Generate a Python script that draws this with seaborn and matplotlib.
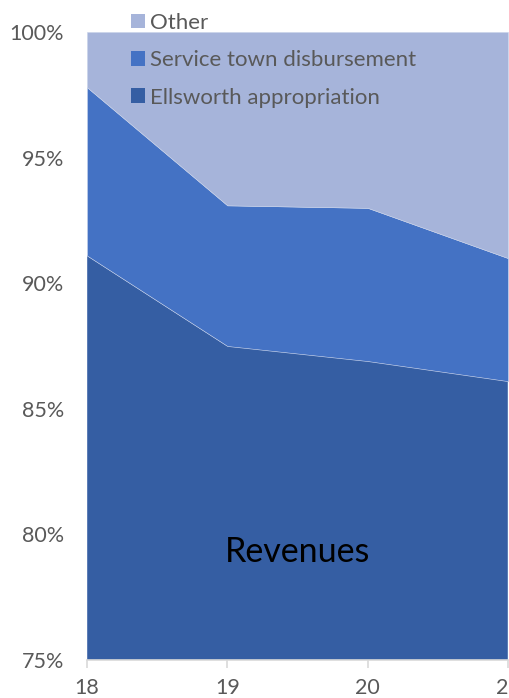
import matplotlib
matplotlib.use("Agg")
import matplotlib.pyplot as plt
import seaborn as sns
import numpy as np
import pandas as pd
from matplotlib.ticker import FuncFormatter
from matplotlib.patches import Patch

years = [18, 19, 20, 21]
year_labels = ["18", "19", "20", "21"]
ellsworth = [91.1, 87.5, 86.9, 86.1]
service = [6.7, 5.6, 6.1, 4.9]
other = [2.2, 6.9, 7.0, 9.0]
series_names = ["Ellsworth appropriation", "Service town disbursement", "Other"]
colors = ["#355EA3", "#4472C4", "#A6B4DA"]

df = pd.DataFrame({"year": years, series_names[0]: ellsworth,
                   series_names[1]: service, series_names[2]: other})

sns.set_theme(style="white")
plt.rcParams['font.family'] = ['Lato', 'DejaVu Sans']

fig = plt.figure(figsize=(5.10, 6.98), dpi=100)
ax = fig.add_axes([87/510, 1-660/698, (508-87)/510, (660-32)/698])

ax.stackplot(df["year"], df[series_names[0]], df[series_names[1]], df[series_names[2]],
             colors=colors, edgecolor="#c9d3ea", linewidth=0.4)

ax.set_xlim(18, 21)
ax.set_ylim(75, 100)
ax.set_xticks(years)
ax.set_xticklabels(year_labels)
ax.set_yticks([75, 80, 85, 90, 95, 100])
ax.yaxis.set_major_formatter(FuncFormatter(lambda v, p: f"{int(round(v))}%"))
ax.tick_params(axis="y", length=0, labelsize=15.5, labelcolor="#595959", pad=16.5)
ax.tick_params(axis="x", length=6, width=1.2, color="#d9d9d9", direction="out",
               labelsize=15.5, labelcolor="#595959", pad=7, bottom=True)
for s in ["top", "right", "left"]:
    ax.spines[s].set_visible(False)
ax.spines["bottom"].set_color("#d9d9d9")
ax.spines["bottom"].set_linewidth(1.2)
ax.set_xlabel("")
ax.set_ylabel("")

handles = [Patch(facecolor=colors[2], edgecolor="none"),
           Patch(facecolor=colors[1], edgecolor="none"),
           Patch(facecolor=colors[0], edgecolor="none")]
labels = [series_names[2], series_names[1], series_names[0]]
leg = fig.legend(handles, labels, loc="upper left", bbox_to_anchor=(122/510, 1-4/698),
                 frameon=False, fontsize=16, labelcolor="#595959",
                 handlelength=0.63, handleheight=0.63, handletextpad=0.25,
                 labelspacing=0.78, borderaxespad=0)

ax.text(0.5, 0.172, "Revenues", transform=ax.transAxes, ha="center", va="center",
        fontsize=24.5, color="black")

fig.savefig("out.png", dpi=100)
